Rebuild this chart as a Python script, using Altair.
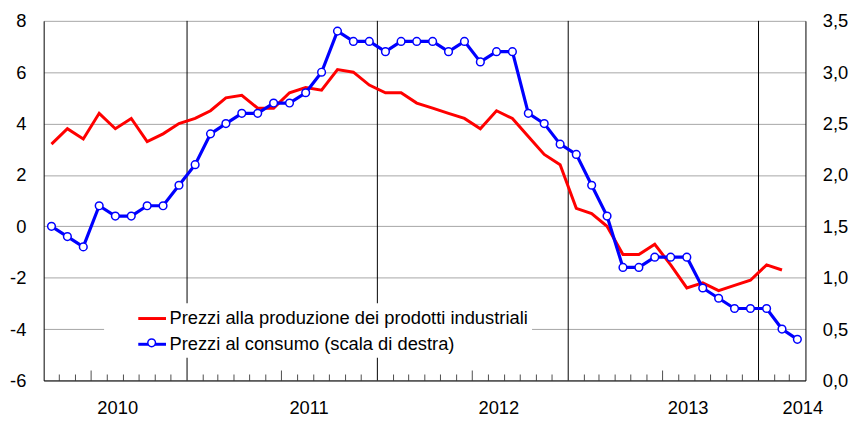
import altair as alt
import pandas as pd

# ---------------- data ----------------
serie_names = ["Prezzi alla produzione dei prodotti industriali",
               "Prezzi al consumo (scala di destra)"]
serie_colors = ["#ff0000", "#0000ff"]

first_month = "2010-04-01"
n_months = 48

# producer prices (left scale), Apr 2010 - Feb 2014
prod = [3.2, 3.8, 3.4, 4.4, 3.8, 4.2, 3.3, 3.6, 4.0, 4.2, 4.5, 5.0, 5.1, 4.6, 4.6, 5.2,
        5.4, 5.3, 6.1, 6.0, 5.5, 5.2, 5.2, 4.8, 4.6, 4.4, 4.2, 3.8, 4.5, 4.2, 3.5, 2.8, 2.4,
        0.7, 0.5, 0.0, -1.1, -1.1, -0.7, -1.5, -2.4, -2.2, -2.5, -2.3, -2.1, -1.5, -1.7]

# consumer prices (right scale), Apr 2010 - Mar 2014
cons = [1.5, 1.4, 1.3, 1.7, 1.6, 1.6, 1.7, 1.7, 1.9, 2.1, 2.4, 2.5, 2.6, 2.6, 2.7, 2.7,
        2.8, 3.0, 3.4, 3.3, 3.3, 3.2, 3.3, 3.3, 3.3, 3.2, 3.3, 3.1, 3.2, 3.2, 2.6, 2.5, 2.3,
        2.2, 1.9, 1.6, 1.1, 1.1, 1.2, 1.2, 1.2, 0.9, 0.8, 0.7, 0.7, 0.7, 0.5, 0.4]

year_lines = ["2011-01-01", "2012-01-01", "2013-01-01", "2014-01-01"]
year_labels = ["2010", "2011", "2012", "2013", "2014"]
year_label_dates = ["2010-08-21", "2011-08-23", "2012-08-21", "2013-08-19", "2014-03-27"]

left_ticks = [-6, -4, -2, 0, 2, 4, 6, 8]
right_ticks = [0.0, 0.5, 1.0, 1.5, 2.0, 2.5, 3.0, 3.5]

# ---------------- tables ----------------
months = pd.date_range(first_month, periods=n_months, freq="MS")
next_months = months + pd.offsets.MonthBegin(1)
centers = months + (next_months - months) / 2

df_prod = pd.DataFrame({"date": centers[:len(prod)], "value": prod, "serie": serie_names[0]})
df_cons = pd.DataFrame({"date": centers[:len(cons)], "value": cons, "serie": serie_names[1]})
df_lines = pd.DataFrame({"date": pd.to_datetime(year_lines)})
tick_dates = months[1:]
tick_dates = tick_dates[tick_dates.month != 1]
df_ticks = pd.DataFrame({"date": tick_dates, "tall": tick_dates.month == 7})
df_years = pd.DataFrame({"date": pd.to_datetime(year_label_dates), "label": year_labels})

FONT = "Liberation Sans"
FS = 18.5

xscale = alt.Scale(domain=[alt.DateTime(year=2010, month=4, date=1),
                           alt.DateTime(year=2014, month=4, date=1)])
x_enc = alt.X("date:T", scale=xscale,
              axis=alt.Axis(labels=False, ticks=False, grid=False, domain=True,
                            domainColor="black", domainWidth=1, title=None))

left_scale = alt.Scale(domain=[-6, 8], nice=False, zero=False)
right_scale = alt.Scale(domain=[0, 3.5], nice=False, zero=False)

left_axis = alt.Axis(values=left_ticks, labelExpr="datum.value + ''", title=None,
                     ticks=False, domain=True, domainColor="black", grid=True,
                     gridColor="#a6a6a6", gridWidth=1, labelPadding=18,
                     labelFont=FONT, labelFontSize=FS, labelColor="black")

color_enc = alt.Color(
    "serie:N",
    scale=alt.Scale(domain=serie_names, range=serie_colors),
    legend=alt.Legend(title=None, orient="none", legendX=61, legendY=285,
                      fillColor="white", padding=4, symbolType="M-1.4,0H1.4",
                      symbolSize=400, symbolStrokeWidth=3, symbolOffset=33,
                      labelOffset=6, rowPadding=5, labelFont=FONT, labelFontSize=FS,
                      labelLimit=0, labelColor="black"),
)

# ---------------- left layer ----------------
rules = alt.Chart(df_lines).mark_rule(color="black", strokeWidth=1).encode(x=x_enc)

ticks_short = alt.Chart(df_ticks).transform_filter("!datum.tall").mark_tick(
    orient="vertical", color="black", thickness=1, size=6, yOffset=-3
).encode(x=x_enc, y=alt.YDatum(-6, scale=left_scale, axis=left_axis))

ticks_tall = alt.Chart(df_ticks).transform_filter("datum.tall").mark_tick(
    orient="vertical", color="black", thickness=1, size=10, yOffset=-5
).encode(x=x_enc, y=alt.YDatum(-6, scale=left_scale, axis=left_axis))

year_text = alt.Chart(df_years).mark_text(
    font=FONT, fontSize=FS, color="black", align="center", baseline="middle", dy=28
).encode(x=x_enc, y=alt.YDatum(-6, scale=left_scale, axis=left_axis), text="label:N")

red_line = alt.Chart(df_prod).mark_line(strokeWidth=3).encode(
    x=x_enc,
    y=alt.Y("value:Q", scale=left_scale, axis=left_axis),
    color=color_enc,
)

left = alt.layer(rules, ticks_short, ticks_tall, year_text, red_line)

# ---------------- right layer ----------------
y_right = alt.Y("value:Q", scale=right_scale,
                axis=alt.Axis(orient="right", values=right_ticks,
                              labelExpr="replace(format(datum.value, '.1f'), '.', ',')",
                              title=None, ticks=False, grid=False, domain=True,
                              domainColor="black", labelPadding=17, labelFont=FONT,
                              labelFontSize=FS, labelColor="black"))

blue_line = alt.Chart(df_cons).mark_line(strokeWidth=3.2).encode(
    x=x_enc, y=y_right, color=color_enc)

blue_points = alt.Chart(df_cons).mark_point(
    filled=False, fill="white", fillOpacity=1, stroke="#0000ff", color="#0000ff",
    strokeWidth=1.5, size=60, opacity=1
).encode(
    x=x_enc, y=y_right,
    shape=alt.Shape("serie:N", scale=alt.Scale(domain=[serie_names[1]], range=["circle"]),
                    legend=alt.Legend(title=None, orient="none", legendX=104, legendY=320,
                                      padding=0, symbolSize=60, symbolStrokeWidth=1.5,
                                      labelExpr="''", labelFontSize=8, symbolOffset=0)),
)

right = alt.layer(blue_line, blue_points)

chart = alt.layer(left, right).resolve_scale(y="independent").properties(
    width=769, height=363,
    padding={"left": 36, "top": 11, "right": 48, "bottom": 42},
    autosize=alt.AutoSizeParams(type="none"),
).configure(font=FONT).configure_view(stroke=None)

chart.save("out.html", embed_options={"renderer": "svg", "actions": False})
